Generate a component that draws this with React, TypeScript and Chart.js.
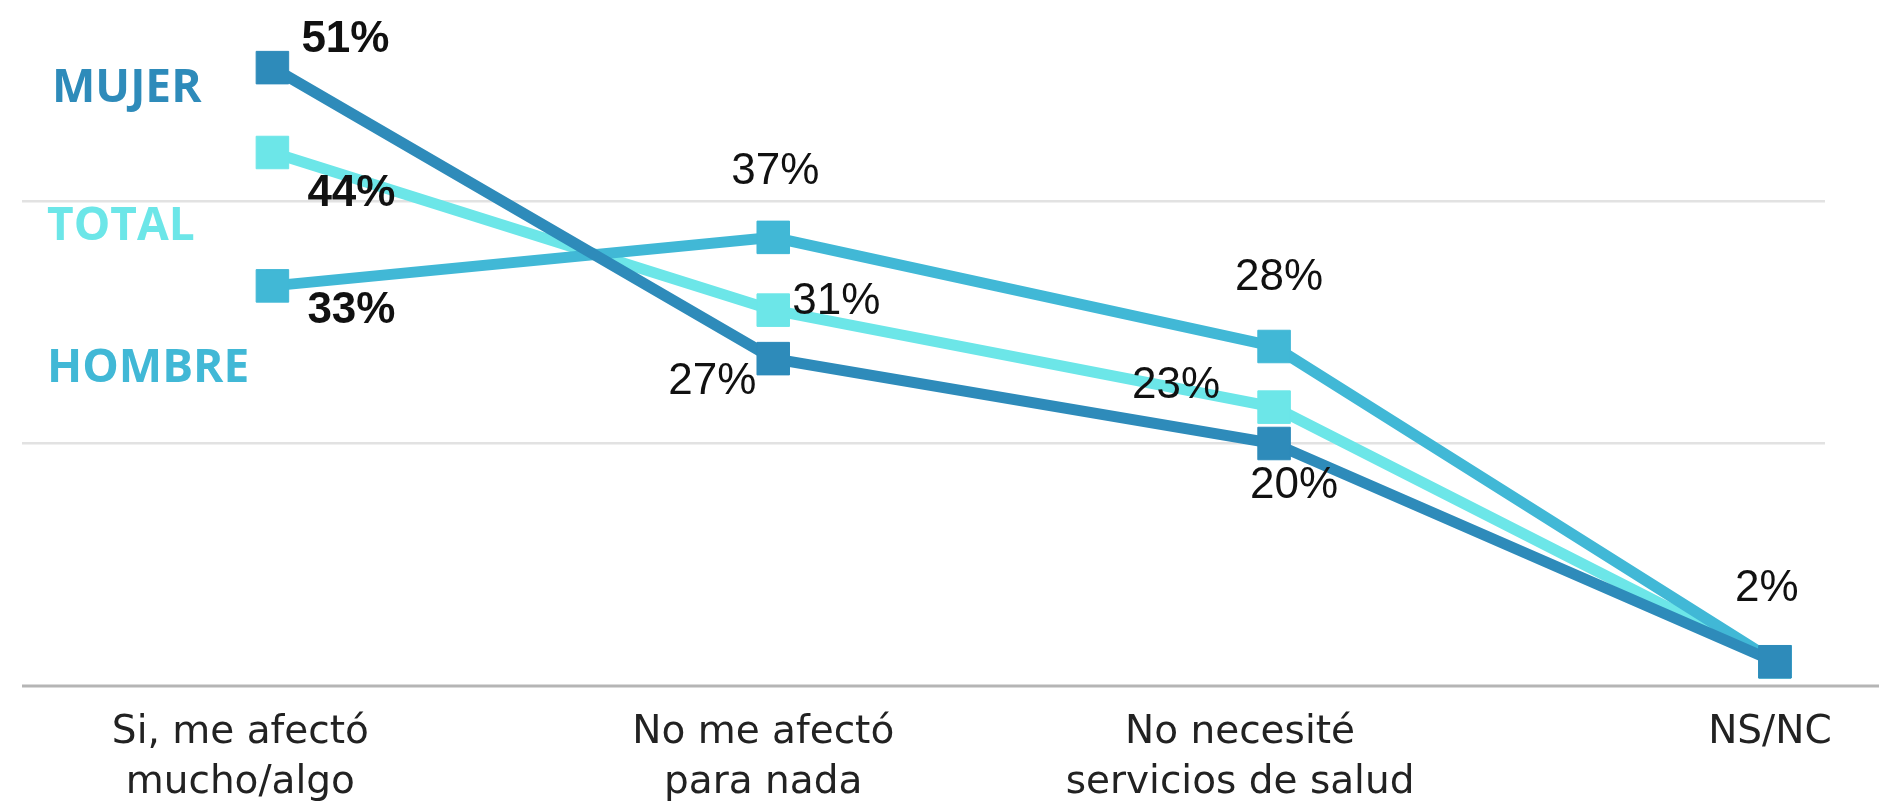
import React, { useEffect, useRef } from "react";
import { Chart, registerables } from "chart.js";

Chart.register(...registerables);

// ---- Data ----
const categories: string[][] = [
  ["Si, me afectó", "mucho/algo"],
  ["No me afectó", "para nada"],
  ["No necesité", "servicios de salud"],
  ["NS/NC"],
];
const mujerValues = [51, 27, 20, 2];
const hombreValues = [33, 37, 28, 2];
const totalValues = [44, 31, 23, 2];
const seriesNames = ["MUJER", "HOMBRE", "TOTAL"];
const gridTicks = [0, 20, 40];

// ---- Styles ----
const colors: Record<string, string> = {
  MUJER: "#2e8bba",
  HOMBRE: "#41b8d6",
  TOTAL: "#6ce6e8",
};
// small horizontal nudge of each category label (in axis units)
const labelNudge = [-0.064, -0.02, -0.068, -0.01];
// label offsets (px) relative to each point; null = no label
const labelOffsets: Record<string, ([number, number] | null)[]> = {
  MUJER: [[73, -31], [-61, 20], [20, 39], [-8, -77]],
  HOMBRE: [[79, 21], [2, -69], [5, -72], null],
  TOTAL: [[79, 38], [63, -12], [-98, -25], null],
};
const sideLabels: { name: string; x: number; y: number }[] = [
  { name: "MUJER", x: 52, y: 102 },
  { name: "TOTAL", x: 47, y: 240 },
  { name: "HOMBRE", x: 47, y: 382 },
];

const seriesData: Record<string, number[]> = {
  MUJER: mujerValues,
  HOMBRE: hombreValues,
  TOTAL: totalValues,
};

const overlayPlugin = {
  id: "overlay",
  beforeDatasetsDraw(chart: any) {
    const { ctx, chartArea, scales } = chart;
    const y0 = scales.y.getPixelForValue(0);
    ctx.save();
    ctx.strokeStyle = "#b5b5b5";
    ctx.lineWidth = 3;
    ctx.beginPath();
    ctx.moveTo(chartArea.left, y0);
    ctx.lineTo(chart.width, y0);
    ctx.stroke();
    ctx.restore();
  },
  afterDatasetsDraw(chart: any) {
    const { ctx } = chart;
    ctx.save();
    // data labels
    chart.data.datasets.forEach((ds: any, di: number) => {
      const meta = chart.getDatasetMeta(di);
      const offs = labelOffsets[ds.label];
      meta.data.forEach((pt: any, i: number) => {
        const off = offs[i];
        if (!off) return;
        const size = 44;
        ctx.font = (i === 0 ? "bold " : "") + size + "px 'Liberation Sans', Arial, sans-serif";
        ctx.fillStyle = "#111111";
        ctx.textAlign = "center";
        ctx.textBaseline = "alphabetic";
        ctx.fillText(ds.data[i].y + "%", pt.x + off[0], pt.y + off[1] + size * 0.716 / 2);
      });
    });
    // side labels
    sideLabels.forEach((s) => {
      ctx.font = "bold 46px 'Open Sans', sans-serif";
      ctx.fillStyle = colors[s.name];
      ctx.textAlign = "left";
      ctx.textBaseline = "alphabetic";
      ctx.fillText(s.name, s.x, s.y);
    });
    ctx.restore();
  },
};

export default function App() {
  const canvasRef = useRef<HTMLCanvasElement | null>(null);

  useEffect(() => {
    if (!canvasRef.current) return;
    const datasets = seriesNames.map((name) => ({
      label: name,
      data: seriesData[name].map((v, i) => ({ x: i, y: v })),
      borderColor: colors[name],
      backgroundColor: colors[name],
      borderWidth: 11,
      pointStyle: "rect" as const,
      pointRadius: 23,
      pointBorderWidth: 1,
      pointBorderColor: colors[name],
      pointBackgroundColor: colors[name],
      tension: 0,
      fill: false,
      clip: false as any,
    }));

    const chart = new Chart(canvasRef.current, {
      type: "line",
      data: { datasets },
      plugins: [overlayPlugin],
      options: {
        animation: false,
        responsive: true,
        maintainAspectRatio: false,
        layout: { autoPadding: false, padding: { left: 22, right: 54, top: 7, bottom: 0 } },
        plugins: {
          legend: { display: false },
          tooltip: { enabled: false },
        },
        scales: {
          x: {
            type: "linear",
            min: -0.5,
            max: 3.1,
            afterBuildTicks: (axis: any) => {
              axis.ticks = categories.map((_, i) => ({ value: i + labelNudge[i] }));
            },
            afterFit: (scale: any) => {
              scale.height = 123;
            },
            grid: { display: false, drawTicks: false },
            border: { display: false },
            ticks: {
              autoSkip: false,
              maxRotation: 0,
              padding: 22,
              color: "#222222",
              font: { family: "'DejaVu Sans', sans-serif", size: 39, lineHeight: 1.28 },
              callback: (value: any) => categories[Math.round(Number(value))] ?? "",
            },
          },
          y: {
            min: 0,
            max: 56,
            afterBuildTicks: (axis: any) => {
              axis.ticks = gridTicks.map((v) => ({ value: v }));
            },
            afterFit: (scale: any) => {
              scale.width = 0;
            },
            border: { display: false },
            grid: {
              drawTicks: false,
              lineWidth: 2.5,
              color: (c: any) => (c.tick && c.tick.value === 0 ? "rgba(0,0,0,0)" : "#e2e2e2"),
            },
            ticks: { display: false },
          },
        },
      },
    });
    return () => chart.destroy();
  }, []);

  return (
    <div style={{ position: "absolute", left: 0, top: 0, width: 1879, height: 809, background: "#ffffff" }}>
      <canvas ref={canvasRef} />
    </div>
  );
}
